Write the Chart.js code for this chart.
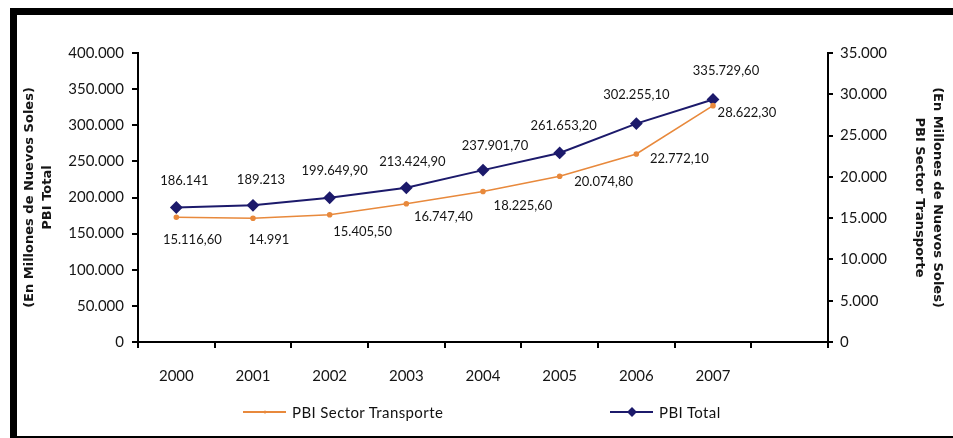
<!DOCTYPE html>
<html>
<head>
<meta charset="utf-8">
<script src="https://cdn.jsdelivr.net/npm/chart.js@4.4.1/dist/chart.umd.min.js"></script>
<style>
  html, body { margin: 0; padding: 0; background: #fff; }
  body { width: 953px; height: 438px; position: relative; overflow: hidden; font-family: Lato, sans-serif; }
  #frame {
    position: absolute; left: 10px; top: 8px; width: 936px; height: 421px;
    border-left: 7px solid #000; border-top: 7px solid #000; border-bottom: 2px solid #000;
  }
  #chart { position: absolute; left: 0; top: 0; }
  .legend-item {
    position: absolute; top: 403px; height: 18px;
    display: flex; align-items: center; font-size: 15px; letter-spacing: 0.4px; color: #111; white-space: nowrap;
  }
  .swatch { position: relative; width: 43px; height: 2px; margin-right: 6px; }
  .swatch .mark { position: absolute; left: 50%; top: 50%; transform: translate(-50%, -50%) rotate(45deg); }
</style>
</head>
<body>
<div id="frame"></div>
<canvas id="chart" width="953" height="438"></canvas>
<div id="legend"></div>
<script>
// Years on the x axis (the last slot is empty in the original)
const years = ['2000', '2001', '2002', '2003', '2004', '2005', '2006', '2007', ''];

// PBI Total (left axis), millones de nuevos soles
const pbiTotal = [186141, 189213, 199649.9, 213424.9, 237901.7, 261653.2, 302255.1, 335729.6];

// PBI Sector Transporte (right axis)
const pbiTransporte = [15116.6, 14991, 15405.5, 16747.4, 18225.6, 20074.8, 22772.1, 28622.3];

// Axis ranges
const leftAxis = { max: 400000, step: 50000 };
const rightAxis = { max: 35000, step: 5000 };

// Label placement relative to each point (layout only)
const totalLabelOffsets = [[8, -27], [8, -25], [5, -27], [6, -26], [12, -24], [4, -27], [0, -29], [13, -29]];
const transLabelOffsets = [[16, 23], [16, 22], [33, 17], [37, 13], [40, 14], [44, 6], [43, 5], [34, 7]];

const NAVY = '#1c1a6b';
const ORANGE = '#e8893c';
const TEXT = '#151515';

function formatNum(v, decimals) {
    const parts = v.toFixed(decimals).split('.');
    parts[0] = parts[0].replace(/\B(?=(\d{3})+(?!\d))/g, '.');
    return parts.length > 1 ? parts[0] + ',' + parts[1] : parts[0];
}

function labelText(v) {
    return Number.isInteger(v) ? formatNum(v, 0) : formatNum(v, 2);
}

/**
 * Draws the value labels next to each point.
 */
const valueLabels = {
    id: 'valueLabels',
    afterDatasetsDraw(chart) {
        const ctx = chart.ctx;
        const offsets = [transLabelOffsets, totalLabelOffsets];
        ctx.save();
        ctx.font = '13px Lato';
        ctx.fillStyle = TEXT;
        ctx.textAlign = 'center';
        ctx.textBaseline = 'middle';
        chart.data.datasets.forEach((ds, di) => {
            const meta = chart.getDatasetMeta(di);
            meta.data.forEach((pt, i) => {
                const v = ds.data[i];
                if (v == null) return;
                const [dx, dy] = offsets[di][i];
                ctx.fillText(labelText(v), pt.x + dx, pt.y + dy);
            });
        });
        ctx.restore();
    }
};

const tickFont = { family: 'Lato', size: 15 };
const titleFont = { family: 'DejaVu Sans', size: 13, weight: 'bold', lineHeight: 1.35 };

const chart = new Chart(document.getElementById('chart'), {
    type: 'line',
    data: {
        labels: years,
        datasets: [
            {
                label: 'PBI Sector Transporte',
                data: pbiTransporte,
                yAxisID: 'y1',
                borderColor: ORANGE,
                backgroundColor: ORANGE,
                borderWidth: 1.6,
                pointStyle: 'circle',
                pointRadius: 2,
                tension: 0
            },
            {
                label: 'PBI Total',
                data: pbiTotal,
                yAxisID: 'y',
                borderColor: NAVY,
                backgroundColor: NAVY,
                borderWidth: 2,
                pointStyle: 'rectRot',
                pointRadius: 5,
                tension: 0
            }
        ]
    },
    options: {
        responsive: false,
        animation: false,
        layout: { padding: { top: 53, left: 0, right: 0, bottom: 0 } },
        plugins: {
            legend: { display: false },
            tooltip: { enabled: false }
        },
        scales: {
            x: {
                offset: true,
                grid: { offset: true, drawOnChartArea: false, drawTicks: true, tickLength: 6, color: '#000', lineWidth: 2 },
                border: { color: '#000', width: 2 },
                ticks: { font: tickFont, color: TEXT, padding: 19, maxRotation: 0, autoSkip: false },
                afterFit(scale) { scale.height = 96; }
            },
            y: {
                position: 'left',
                min: 0,
                max: leftAxis.max,
                grid: { drawOnChartArea: false, drawTicks: true, tickLength: 6, color: '#000', lineWidth: 2 },
                border: { color: '#000', width: 2 },
                ticks: { stepSize: leftAxis.step, font: tickFont, color: TEXT, padding: 8, callback: v => formatNum(v, 0) },
                title: {
                    display: true,
                    text: ['(En Millones de Nuevos Soles)', 'PBI Total'],
                    font: titleFont,
                    color: TEXT,
                    padding: { top: 21, bottom: 0 }
                },
                afterFit(scale) { scale.width = 138; }
            },
            y1: {
                position: 'right',
                min: 0,
                max: rightAxis.max,
                grid: { drawOnChartArea: false, drawTicks: true, tickLength: 5, color: '#000', lineWidth: 2 },
                border: { color: '#000', width: 2 },
                ticks: { stepSize: rightAxis.step, font: tickFont, color: TEXT, padding: 7, callback: v => formatNum(v, 0) },
                title: {
                    display: true,
                    text: ['(En Millones de Nuevos Soles)', 'PBI Sector Transporte'],
                    font: titleFont,
                    color: TEXT,
                    padding: { top: 7, bottom: 0 }
                },
                afterFit(scale) { scale.width = 125; }
            }
        }
    },
    plugins: [valueLabels]
});

// HTML legend, built from the datasets
const legendLeft = [243, 610];
const legend = document.getElementById('legend');
chart.data.datasets.forEach((ds, i) => {
    const item = document.createElement('div');
    item.className = 'legend-item';
    item.style.left = legendLeft[i] + 'px';
    const sw = document.createElement('span');
    sw.className = 'swatch';
    sw.style.background = ds.borderColor;
    const mark = document.createElement('span');
    mark.className = 'mark';
    const size = ds.pointStyle === 'rectRot' ? 7 : 3;
    mark.style.width = size + 'px';
    mark.style.height = size + 'px';
    mark.style.background = ds.borderColor;
    if (ds.pointStyle !== 'rectRot') mark.style.borderRadius = '50%';
    sw.appendChild(mark);
    const txt = document.createElement('span');
    txt.textContent = ds.label;
    item.appendChild(sw);
    item.appendChild(txt);
    legend.appendChild(item);
});
</script>
</body>
</html>
